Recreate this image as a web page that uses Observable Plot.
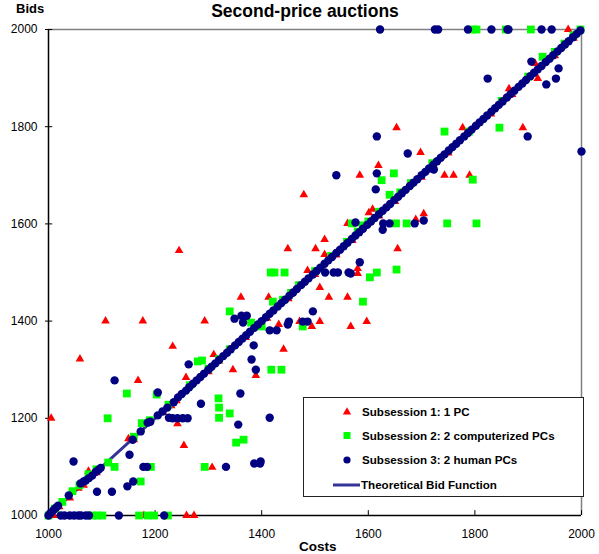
<!DOCTYPE html>
<html>
<head>
<meta charset="utf-8">
<script src="https://cdn.jsdelivr.net/npm/d3@7"></script>
<script src="https://cdn.jsdelivr.net/npm/@observablehq/plot@0.6"></script>
<style>
  html, body { margin: 0; padding: 0; background: #fff; }
  #chart svg { display: block; }
</style>
</head>
<body>
<div id="chart"></div>
<script>
// ---------- Data (cost, bid) ----------
const titleText = "Second-price auctions";
const yLabelText = "Bids";
const xLabelText = "Costs";
const xTicks = [1000, 1200, 1400, 1600, 1800, 2000];
const yTicks = [1000, 1200, 1400, 1600, 1800, 2000];
const legendLabels = ["Subsession 1: 1 PC", "Subsession 2: 2 computerized PCs", "Subsession 3: 2 human PCs", "Theoretical Bid Function"];

// Subsession 1: 1 PC (red triangles)
const sub1 = [
  [1005,1200],[1107,1400],[1059,1322],[1177,1400],[1293,1400],[1245,1545],[1449,1549],[1501,1549],
  [1479,1660],[1168,1278],[1233,1348],[1361,1449],[1413,1449],[1310,1331],[1346,1300],[1441,1342],
  [1389,1288],[1258,1284],[1432,1393],[1471,1399],[1509,1399],[1509,1469],[1526,1449],[1561,1449],
  [1494,1389],[1567,1389],[1597,1399],[1580,1498],[1580,1508],[1486,1504],[1698,1747],[1619,1720],[1584,1700],
  [1743,1700],[1760,1700],[1790,1700],[1518,1568],[1518,1537],[1655,1549],[1601,1623],[1608,1630],
  [1704,1621],[1689,1609],[1561,1601],[1653,1798],[1777,1798],[1890,1798],[1918,1899],[1975,2000],[1864,1878],
  [1913,1930],[1259,1000],[1273,1000],[1179,1000],[1010,1000],[1242,1189],[1254,1144],[1307,1099],
  [1215,1212],[1150,1158],[1075,1091],[1056,1056],
  [1005,1005],[1020,1018],[1040,1036],[1066,1062],[1090,1088],[1160,1156],[1230,1226],[1240,1236],
  [1300,1296],[1320,1318],[1370,1366],[1410,1406],[1450,1446],[1500,1496],[1540,1536],[1570,1566],
  [1620,1616],[1650,1646],[1700,1696],[1750,1746],[1830,1826],[1870,1866],[1950,1946],[1985,1982]
];

// Subsession 2: 2 computerized PCs (green squares)
const sub2 = [
  [1417,1500],[1424,1500],[1443,1500],[1340,1420],[1421,1440],[1418,1300],[1437,1300],[1280,1317],
  [1288,1319],[1147,1251],[1203,1249],[1319,1241],[1320,1222],[1477,1389],[1590,1440],[1603,1490],
  [1616,1500],[1653,1506],[1648,1704],[1625,1690],[1796,1691],[1748,1601],[1803,1601],[1672,1601],
  [1652,1601],[1569,1601],[1589,1597],[1743,1790],[1846,1798],[1927,1944],[1796,2000],[1803,2000],
  [1858,2000],[1905,2000],[1111,1200],[1320,1201],[1340,1210],[1352,1150],[1366,1156],[1293,1100],
  [1192,1100],[1173,1070],[1124,1100],[1083,1000],[1092,1000],[1101,1000],[1170,1000],[1186,1000],
  [1198,1000],[1224,1000],
  [1000,1000],[1012,1014],[1026,1028],[1045,1050],[1058,1062],[1075,1085],[1090,1095],[1112,1109],
  [1160,1162],[1175,1190],[1190,1196],[1225,1228],[1265,1268],[1300,1302],[1320,1322],[1340,1342],
  [1380,1397],[1400,1389],[1440,1444],[1455,1458],[1470,1474],[1500,1503],[1530,1534],[1560,1563],
  [1580,1584],[1600,1605],[1620,1625],[1640,1660],[1660,1665],[1680,1684],[1720,1725],[1789,1790],
  [1850,1853],[1900,1903],[1950,1954],[1968,1971],[1985,1988],[1998,2000]
];

// Subsession 3: 2 human PCs (navy circles)
const sub3 = [
  [1622,2000],[1725,2000],[1731,2000],[1787,2000],[1831,2000],[1861,2000],[1863,2000],[1925,2000],[1944,2000],
  [2000,1749],[1824,1899],[1899,1780],[1934,1887],[1952,1899],[1957,1920],[1906,1934],
  [1616,1780],[1674,1745],[1540,1700],[1616,1704],[1614,1671],[1576,1603],[1627,1588],[1628,1601],
  [1640,1601],[1687,1601],[1704,1607],[1584,1521],[1519,1500],[1535,1500],[1543,1500],[1563,1500],
  [1567,1498],[1723,1712],
  [1124,1278],[1205,1253],[1263,1311],[1286,1230],[1360,1251],[1381,1321],[1389,1300],[1385,1350],
  [1349,1405],[1362,1411],[1372,1411],[1365,1397],[1415,1381],[1428,1381],[1449,1393],[1451,1399],
  [1477,1399],[1486,1399],[1496,1420],
  [1047,1111],[1226,1201],[1233,1200],[1242,1200],[1252,1200],[1261,1200],[1356,1187],[1415,1201],
  [1152,1125],[1178,1100],[1185,1100],[1333,1100],[1386,1107],[1397,1107],[1398,1111],[1091,1049],
  [1119,1049],[1148,1060],[1159,1070],[1132,1000],[1217,1000],[1023,1000],[1030,1000],[1040,1000],
  [1048,1000],[1056,1000],[1061,1000],[1070,1000],[1076,1000],
  [1000,1000],[1003,1004],[1006,1007],[1010,1012],[1014,1016],[1018,1020],[1038,1041],[1060,1066],
  [1066,1070],[1070,1072],[1076,1077],[1082,1082],[1089,1090],[1094,1094],[1098,1098],[1158,1156],
  [1173,1173],[1186,1191],[1191,1193],[1205,1206],[1214,1214],[1223,1222],[1235,1233],[1243,1243],
  [1250,1250],[1258,1257],[1264,1264],[1271,1271],[1278,1278],[1285,1285],[1292,1292],[1300,1300],
  [1306,1306],[1313,1313],[1320,1320],[1328,1328],[1335,1335],[1342,1342],[1350,1350],[1357,1357],
  [1364,1364],[1371,1371],[1378,1378],[1386,1386],[1393,1393],[1400,1400],[1408,1408],[1415,1415],
  [1422,1422],[1430,1430],[1437,1437],[1444,1444],[1452,1452],[1459,1459],[1466,1466],[1474,1474],
  [1481,1481],[1488,1488],[1496,1496],[1503,1503],[1510,1510],[1518,1518],[1525,1525],[1532,1532],
  [1540,1540],[1547,1547],[1554,1554],[1561,1561],[1569,1569],[1576,1576],[1583,1583],[1590,1590],
  [1598,1598],[1605,1605],[1612,1612],[1620,1620],[1627,1627],[1634,1634],[1641,1641],[1649,1649],
  [1656,1656],[1663,1663],[1670,1670],[1678,1678],[1685,1685],[1692,1692],[1700,1700],[1707,1707],
  [1714,1714],[1722,1722],[1729,1729],[1736,1736],[1743,1743],[1751,1751],[1758,1758],[1765,1765],
  [1772,1772],[1780,1780],[1787,1787],[1794,1794],[1802,1802],[1809,1809],[1816,1816],[1823,1823],
  [1831,1831],[1838,1838],[1845,1845],[1852,1852],[1860,1860],[1867,1867],[1874,1874],[1882,1882],
  [1889,1889],[1896,1896],[1904,1904],[1911,1911],[1918,1918],[1925,1925],[1933,1933],[1940,1940],
  [1947,1947],[1955,1955],[1962,1962],[1969,1969],[1976,1976],[1984,1984],[1991,1991],[1998,1998]
];

// Theoretical bid function (bid = cost)
const theoryCost = [1000, 2000];
const theoryBid = [1000, 2000];

// ---------- Styles ----------
const RED = "#ff0000", GREEN = "#00ff00", NAVY = "#000080", LINE = "#333399";
const FONT = "'Liberation Sans', Arial, Helvetica, sans-serif";

const toRows = arr => arr.map(([c, b]) => ({c, b}));
const theory = theoryCost.map((c, i) => ({c, b: theoryBid[i]}));

const plot = Plot.plot({
  width: 599,
  height: 554,
  marginLeft: 48,
  marginRight: 18,
  marginTop: 29,
  marginBottom: 39,
  style: {fontFamily: FONT, fontSize: "12px", color: "#000", background: "#fff", overflow: "visible"},
  x: {domain: [1000, 2000], label: null},
  y: {domain: [1000, 2000], label: null},
  marks: [
    Plot.axisX({ticks: xTicks, tickSize: 0, tickPadding: 14, tickFormat: d => String(d), label: null, fontSize: 12}),
    Plot.axisY({ticks: yTicks, tickSize: 3, tickPadding: 8, tickFormat: d => String(d), label: null, fontSize: 12}),
    Plot.ruleY([2000], {stroke: "#808080", strokeWidth: 1.5}),
    Plot.ruleX([2000], {stroke: "#808080", strokeWidth: 1.5}),
    Plot.ruleX([1000], {stroke: "#000", strokeWidth: 1.5}),
    Plot.ruleY([1000], {stroke: "#000", strokeWidth: 1.5}),
    Plot.ruleX(xTicks, {y1: 1000, y2: 1010, stroke: "#000"}),
    Plot.ruleY(yTicks, {x1: 1000, x2: 1008, stroke: "#000"}),
    Plot.line(theory, {x: "c", y: "b", stroke: LINE, strokeWidth: 3}),
    Plot.dot(toRows(sub1), {x: "c", y: "b", symbol: "triangle", fill: RED, r: 3.2}),
    Plot.dot(toRows(sub2), {x: "c", y: "b", symbol: "square", fill: GREEN, r: 4.4}),
    Plot.dot(toRows(sub3), {x: "c", y: "b", symbol: "circle", fill: NAVY, r: 4.2})
  ]
});

document.getElementById("chart").appendChild(plot);

// ---------- Titles and legend ----------
const svg = d3.select(plot);
svg.append("text").attr("x", 305).attr("y", 17).attr("text-anchor", "middle")
  .attr("font-family", FONT).attr("font-weight", "bold").attr("font-size", 17.5).text(titleText);
svg.append("text").attr("x", 16).attr("y", 13).attr("text-anchor", "start").attr("font-family", FONT)
  .attr("font-weight", "bold").attr("font-size", 13).text(yLabelText);
svg.append("text").attr("x", 299).attr("y", 551).attr("text-anchor", "start").attr("font-family", FONT)
  .attr("font-weight", "bold").attr("font-size", 13.5).text(xLabelText);

const lg = svg.append("g");
lg.append("rect").attr("x", 303.5).attr("y", 397.5).attr("width", 280).attr("height", 99)
  .attr("fill", "#fff").attr("stroke", "#222").attr("stroke-width", 1);
const rowsY = [412, 435.5, 460, 485];
lg.append("path").attr("d", d3.symbol(d3.symbolTriangle, 30)()).attr("transform", `translate(347,${rowsY[0]})`).attr("fill", RED);
lg.append("rect").attr("x", 343.5).attr("y", rowsY[1] - 3.5).attr("width", 7).attr("height", 7).attr("fill", GREEN);
lg.append("circle").attr("cx", 347).attr("cy", rowsY[2]).attr("r", 3.6).attr("fill", NAVY);
lg.append("line").attr("x1", 333).attr("x2", 360).attr("y1", rowsY[3]).attr("y2", rowsY[3])
  .attr("stroke", LINE).attr("stroke-width", 3);
legendLabels.forEach((t, i) => {
  lg.append("text").attr("x", i === 3 ? 361 : 362).attr("y", rowsY[i] + 4.2).attr("text-anchor", "start")
    .attr("font-family", FONT).attr("font-weight", "bold").attr("font-size", 11.6).text(t);
});
</script>
</body>
</html>
